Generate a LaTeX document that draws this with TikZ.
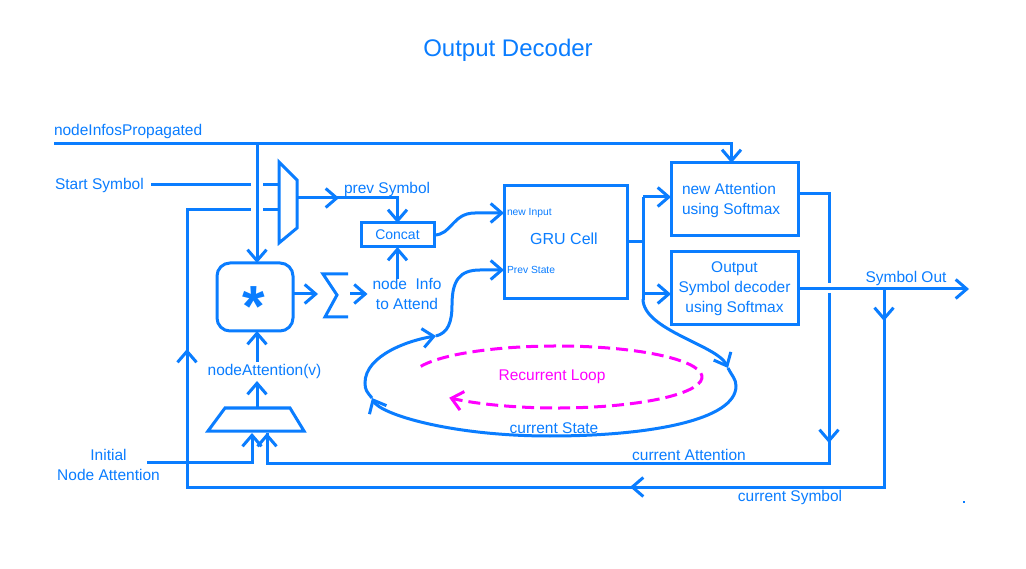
\documentclass[tikz,border=0pt]{standalone}
\usepackage{fontspec}
\setmainfont{Liberation Sans}
\usetikzlibrary{arrows.meta,calc}
\definecolor{ib}{RGB}{10,125,255}
\definecolor{mg}{RGB}{255,0,255}
\begin{document}
\begin{tikzpicture}[x=1pt,y=-1pt,line width=3pt,
  every node/.style={inner sep=0pt,outer sep=0pt,text=ib},
  lbl/.style={font=\fontsize{15.5}{20}\selectfont},
  sml/.style={font=\fontsize{10.3}{12}\selectfont},
  arr/.style={-{Straight Barb[length=11pt,width=19pt]}},
  wire/.style={draw=ib},
  box/.style={draw=ib,rectangle}]
\fill[white] (0,0) rectangle (1026,569);
\useasboundingbox (0,0) rectangle (1026,569);

% title
\node[font=\fontsize{24}{28}\selectfont,anchor=base] (title) at (508,57) {Output Decoder};

% boxes
\node[box,minimum width=73pt,minimum height=24pt,font=\fontsize{14}{16}\selectfont] (concat) at (397.5,235) {Concat};
\node[box,minimum width=123pt,minimum height=113pt] (gru) at (565.5,242.5) {};
\node[box,minimum width=127pt,minimum height=73pt] (newatt) at (734.5,199.5) {};
\node[box,minimum width=127pt,minimum height=73pt] (outbox) at (734.5,288.5) {};
\node[box,minimum width=76pt,minimum height=68pt,rounded corners=13pt] (star) at (255,297) {};

% texts
\node[lbl,anchor=base west] (nip) at (54,136) {nodeInfosPropagated};
\node[lbl,anchor=base west] (ss) at (55,190) {Start Symbol};
\node[lbl,anchor=base west] (ps) at (344,194) {prev Symbol};
\node[sml,anchor=base west] (ni) at (507,216) {new Input};
\node[lbl,font=\fontsize{16}{20}\selectfont,anchor=base] (gc) at (564,245) {GRU Cell};
\node[sml,anchor=base west] (pst) at (507,274) {Prev State};
\node[lbl,anchor=west,align=left] (nat) at (682,200) {new Attention\\using Softmax};
\node[lbl,align=center] (osd) at (734.5,289) {Output\\Symbol decoder\\using Softmax};
\node[lbl,align=center] (nia) at (407,294.4) {node\ \ Info\\to Attend};
\node[lbl,anchor=base] (nav) at (264.5,376) {nodeAttention(v)};
\node[lbl,align=center] (ina) at (108.5,464.5) {Initial\\Node Attention};
\node[lbl,anchor=base] (so) at (906,283) {Symbol Out};
\node[lbl,anchor=base] (cs) at (554,433) {current State};
\node[lbl,anchor=base] (ca) at (689,460) {current Attention};
\node[lbl,anchor=base] (csy) at (790,501) {current Symbol};
\node[lbl,anchor=base,text=mg] (rl) at (552,381) {Recurrent Loop};
\node[font=\bfseries\fontsize{58}{58}\selectfont,anchor=base] (ast) at (253.5,326.5) {*};

% shapes drawn directly
\draw[ib,line join=miter] (279,162) -- (297,180) -- (297,228) -- (279,243) -- cycle;
\draw[ib] (225,408) -- (290,408) -- (304,431) -- (208,431) -- cycle;
\draw[ib] (348,274) -- (323,274) -- (337,295) -- (325,317) -- (348,317);
\fill[ib] (962.5,500.5) rectangle (965,503);

% coordinates
\coordinate (nipS) at (54,144);
\coordinate (nipT) at (257,144);
\coordinate (ssE) at (151,185);
\coordinate (muxI1) at (279,185);
\coordinate (muxI2) at (279,210);
\coordinate (muxO) at (297,198);
\coordinate (bmO) at (257,408);
\coordinate (bmI1) at (252,433);
\coordinate (bmI2) at (267,433);
\coordinate (sigO) at (350,294);
\coordinate (split) at (643,242);
\coordinate (symJ) at (884,289);

% nodeInfosPropagated
\draw[wire,arr] (nipS) -| ([xshift=-3pt]newatt.north);
\draw[wire,arr] (nipT) -- ([xshift=2pt]star.north);

% Start symbol and feedback into mux
\draw[wire] (ssE) -- (251,185);
\draw[wire] (263,185) -- (muxI1);
\draw[wire] (263,210) -- (muxI2);

% prev symbol
\draw[wire,arr] (muxO) -- (339,198);
\draw[wire,arr] (muxO) -| (concat.north);

% star -> sigma -> node info -> concat
\draw[wire,arr] ([yshift=3pt]star.east) -- (318,294);
\draw[wire,arr,shorten >=5pt] (sigO) -- (sigO -| nia.west);
\draw[wire,arr] (concat.south |- nia.north) -- (concat.south);

% concat -> GRU
\draw[wire,arr] (concat.east) .. controls (452,235) and (452,213) .. (475,213) -- (gru.west |- 0,213);

% GRU -> outputs
\draw[wire] (gru.east |- split) -- (split);
\draw[wire] (643,197) -- (643,300);
\draw[wire,arr] (643,197) -- (newatt.west |- 0,197);
\draw[wire,arr] (643,294) -- (outbox.west |- 0,294);

% recurrent loop
\draw[wire,arr] (643,299) .. controls (643,330) and (717,345) .. (728,368);
\draw[wire,arr] (728,368) .. controls (732,376) and (736,379) .. (736,386)
   .. controls (736,420) and (650,436) .. (550,436)
   .. controls (450,436) and (380,414) .. (372,398);
\draw[wire,arr] (372,398) .. controls (367,392) and (365,390) .. (365,383)
   .. controls (365,355) and (410,340) .. (436,336);
\draw[wire,arr] (436,336) .. controls (448,333) and (452,322) .. (452,305)
   .. controls (452,280) and (460,270) .. (480,270) -- (gru.west |- 0,270);

% magenta loop
\draw[mg,line width=3pt,dash pattern=on 12pt off 6pt,-{Straight Barb[length=11pt,width=19pt]}]
  ([shift={(200:145 and 31)}]557,377) arc[start angle=200,end angle=498,x radius=145,y radius=31];

% new attention -> current attention
\draw[wire] (newatt.east |- 0,194) -- (829,194) -- (829,283);
\draw[wire] (829,293) -- (829,463) -| (bmI2);
\draw[wire,arr] (829,300) -- (829,443);
\draw[wire,arr] (267,450) -- (bmI2);

% symbol out
\draw[wire,arr] (outbox.east |- symJ) -- (969,289);
\draw[wire] (symJ) -- (884,487) -- (187,487) -- (187,210) -- (251,210);
\draw[wire,arr] (symJ) -- (884,321);
\draw[wire,arr] (884,487) -- (630,487);
\draw[wire,arr] (187,487) -- (187,349);

% initial node attention
\draw[wire,arr] (147,462) -| (bmI1);

% attention mux -> star
\draw[wire,arr] (bmO) -- (257,381);
\draw[wire,arr] (257,362) -- ([xshift=2pt]star.south);
\end{tikzpicture}
\end{document}
